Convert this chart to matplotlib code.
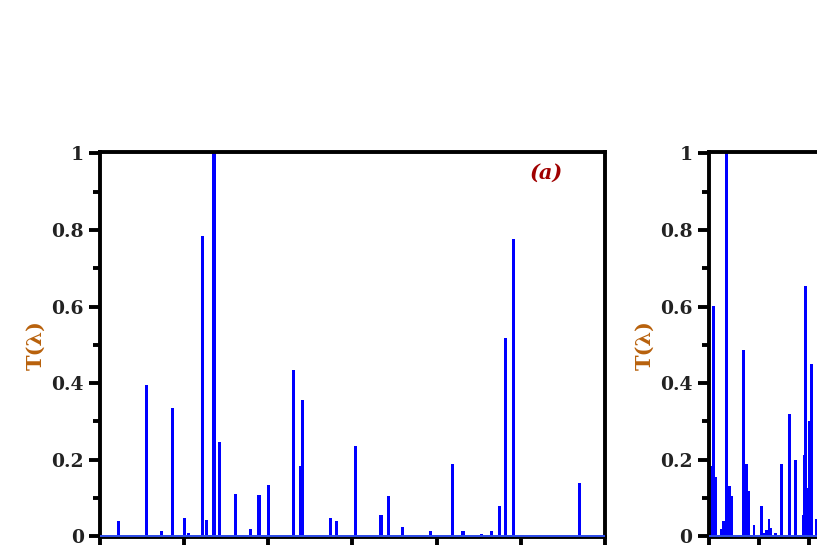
import numpy as np
import matplotlib.pyplot as plt
from matplotlib.ticker import MultipleLocator, FormatStrFormatter

# Panel (a): peak positions (wavelength, nm) and transmission heights
lam_a = [410.9, 425.6, 427.6, 436.7, 442.9, 446.0, 450.2, 452.6, 454.6,
         461.0, 463.1, 464.9, 467.7, 471.0, 480.4, 489.5, 494.5, 495.8,
         500.2, 514.8, 518.9, 520.2, 536.9, 540.6, 551.6, 567.0, 571.2,
         579.9, 596.6, 609.3, 615.7, 626.6, 632.7, 637.5, 640.7, 645.8,
         661.1, 668.3, 684.9]
T_a = [0.039, 0.003, 0.394, 0.014, 0.334, 0.004, 0.048, 0.008, 0.002,
       0.783, 0.044, 0.003, 1.0, 0.246, 0.110, 0.020, 0.108, 0.003,
       0.134, 0.434, 0.184, 0.356, 0.048, 0.039, 0.236, 0.057, 0.106,
       0.025, 0.015, 0.190, 0.013, 0.006, 0.015, 0.079, 0.518, 0.776,
       0.004, 0.001, 0.139]

# Second panel (cut off at the right edge of the figure)
x_b = [0.05, 0.10, 0.15, 0.25, 0.30, 0.36, 0.41, 0.45, 0.70, 0.75, 0.80,
       0.90, 1.05, 1.11, 1.15, 1.20, 1.24, 1.33, 1.45, 1.61, 1.73, 1.876,
       1.90, 1.924, 1.964, 2.004, 2.044, 2.14]
T_b = [0.184, 0.602, 0.155, 0.018, 0.040, 1.0, 0.132, 0.106, 0.487, 0.188,
       0.118, 0.030, 0.078, 0.009, 0.016, 0.045, 0.023, 0.008, 0.188, 0.319,
       0.199, 0.057, 0.213, 0.653, 0.127, 0.300, 0.449, 0.045]

plt.rcParams['font.family'] = 'DejaVu Serif'
plt.rcParams['font.weight'] = 'bold'

fig = plt.figure(figsize=(8.17, 5.45), dpi=100)
ax1 = fig.add_axes([0.1224, 0.0138, 0.618, 0.7072])
ax2 = fig.add_axes([0.8672, 0.0138, 0.618, 0.7072])


def style_axis(ax):
    for s in ax.spines.values():
        s.set_linewidth(2.8)
        s.set_color('black')
    ax.set_ylim(-0.0029, 1.0034)
    ax.yaxis.set_major_locator(MultipleLocator(0.2))
    ax.yaxis.set_minor_locator(MultipleLocator(0.1))
    ax.yaxis.set_major_formatter(FormatStrFormatter('%g'))
    ax.tick_params(axis='both', which='major', direction='out', length=8, width=2.8,
                   labelsize=13.5, colors='black', labelcolor='#222222', pad=3.5)
    ax.tick_params(axis='both', which='minor', direction='out', length=5, width=2.8)
    ax.tick_params(axis='x', labelbottom=False)
    ax.tick_params(top=False, right=False)
    ax.set_ylabel('T(λ)', color='#b8610c', fontsize=15, fontweight='bold', labelpad=4)


# panel (a)
ax1.axhline(0, color='#3355ff', lw=1.3, zorder=3)
ax1.bar(lam_a, T_a, width=1.9, color='#0000ff', edgecolor='none', zorder=2)
ax1.set_xlim(400, 700)
ax1.xaxis.set_major_locator(MultipleLocator(50))
style_axis(ax1)
ax1.text(0.885, 0.945, '(a)', transform=ax1.transAxes, color='#a00000',
         fontsize=15, fontweight='bold', fontstyle='italic', ha='center', va='center')

# second panel
ax2.axhline(0, color='#3355ff', lw=1.3, zorder=3)
ax2.bar(x_b, T_b, width=0.055, color='#0000ff', edgecolor='none', zorder=2)
ax2.set_xlim(0, 10)
ax2.xaxis.set_major_locator(MultipleLocator(1))
style_axis(ax2)

plt.savefig('out.png', dpi=100)
